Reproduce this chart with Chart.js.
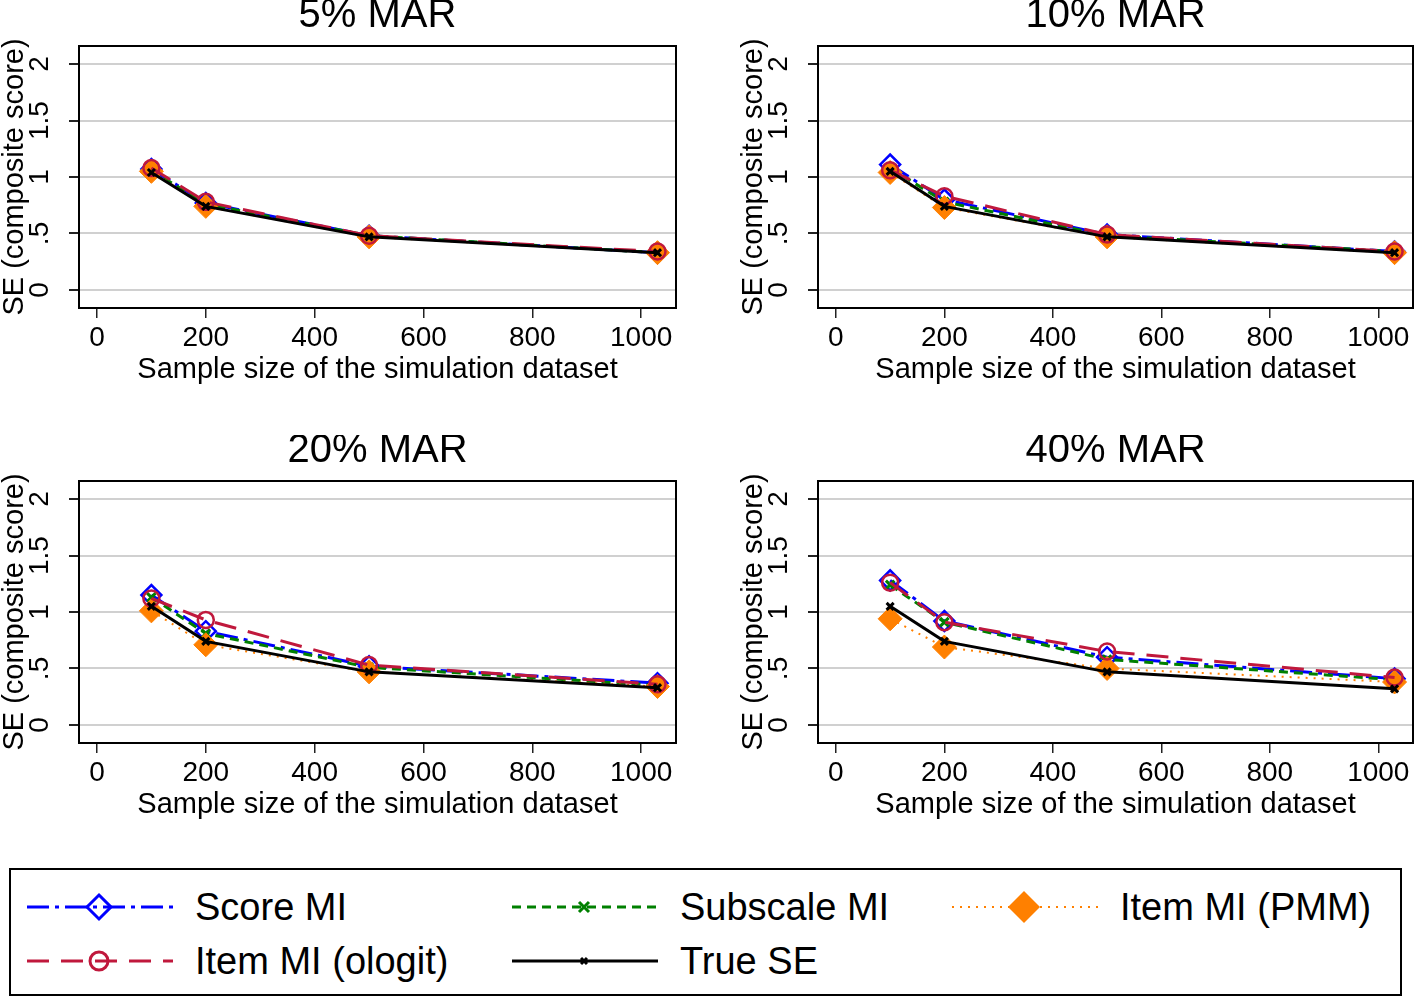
<!DOCTYPE html>
<html>
<head>
<meta charset="utf-8">
<script src="https://cdn.jsdelivr.net/npm/chart.js@4.4.1/dist/chart.umd.min.js"></script>
<style>
  body { margin: 0; background: #fff; font-family: "Liberation Sans", Arial, sans-serif; overflow: hidden; }
  #page { position: relative; width: 1415px; height: 996px; overflow: hidden; }
  canvas { position: absolute; }
  #legend { position: absolute; left: 9px; top: 868px; width: 1389px; height: 124px; border: 2px solid #000; box-sizing: content-box; }
  .item { position: absolute; height: 50px; display: flex; align-items: center; }
  .item svg { display: block; }
  .item span { font-size: 38px; color: #000; margin-left: 22px; white-space: nowrap; }
</style>
</head>
<body>
<div id="page">
  <canvas id="p0" width="700" height="395" style="left:0;top:0"></canvas>
  <canvas id="p1" width="690" height="395" style="left:739px;top:0"></canvas>
  <canvas id="p2" width="700" height="395" style="left:0;top:435px"></canvas>
  <canvas id="p3" width="690" height="395" style="left:739px;top:435px"></canvas>
  <div id="legend"></div>
</div>
<script>
// sample sizes (x) and panel titles
const sampleSizes = [100, 200, 500, 1030];
const panelTitles = ["5% MAR", "10% MAR", "20% MAR", "40% MAR"];
const yTicks = [0, 0.5, 1, 1.5, 2];

// SE per panel (5%, 10%, 20%, 40%), one row per panel
const scoreMI = [
    [1.07, 0.77, 0.48, 0.33],
    [1.11, 0.80, 0.49, 0.34],
    [1.15, 0.83, 0.52, 0.37],
    [1.28, 0.92, 0.60, 0.41]
];
const subscaleMI = [
    [1.06, 0.76, 0.48, 0.33],
    [1.08, 0.78, 0.48, 0.34],
    [1.13, 0.81, 0.51, 0.35],
    [1.24, 0.91, 0.58, 0.40]
];
const itemPMM = [
    [1.05, 0.74, 0.47, 0.33],
    [1.04, 0.73, 0.47, 0.33],
    [1.01, 0.71, 0.47, 0.34],
    [0.94, 0.69, 0.50, 0.38]
];
const itemOlogit = [
    [1.08, 0.78, 0.48, 0.34],
    [1.06, 0.83, 0.49, 0.34],
    [1.12, 0.93, 0.53, 0.36],
    [1.26, 0.91, 0.65, 0.42]
];
const trueSE = [
    [1.04, 0.74, 0.47, 0.33],
    [1.05, 0.74, 0.47, 0.33],
    [1.05, 0.74, 0.47, 0.33],
    [1.05, 0.74, 0.47, 0.32]
];

const FONT = '"Liberation Sans", Arial, Helvetica, sans-serif';
const BLUE = "#0000ff", GREEN = "#008000", ORANGE = "#ff8000", RED = "#c0183c";

// black box around the plot region
const frame = {
    id: "frame",
    afterDraw(chart) {
        const a = chart.chartArea, ctx = chart.ctx;
        ctx.save();
        ctx.strokeStyle = "#000";
        ctx.lineWidth = 2;
        ctx.strokeRect(a.left, a.top, a.right - a.left, a.bottom - a.top);
        ctx.restore();
    }
};

function pts(vals) {
    return vals.map((v, i) => ({ x: sampleSizes[i], y: v }));
}

function makePanel(id, k, rightPad) {
    const datasets = [
        { label: "Score MI", data: pts(scoreMI[k]), order: 5,
          borderColor: BLUE, borderWidth: 3, borderDash: [22, 6, 4, 6],
          pointStyle: "rectRot", pointRadius: 10, pointBorderWidth: 2.5,
          pointBorderColor: BLUE, pointBackgroundColor: "rgba(0,0,0,0)" },
        { label: "Subscale MI", data: pts(subscaleMI[k]), order: 4,
          borderColor: GREEN, borderWidth: 3, borderDash: [9, 6],
          pointStyle: "crossRot", pointRadius: 6, pointBorderWidth: 3,
          pointBorderColor: GREEN },
        { label: "Item MI (PMM)", data: pts(itemPMM[k]), order: 3,
          borderColor: ORANGE, borderWidth: 2, borderDash: [2, 6],
          pointStyle: "rectRot", pointRadius: 12, pointBorderWidth: 1,
          pointBorderColor: ORANGE, pointBackgroundColor: ORANGE },
        { label: "Item MI (ologit)", data: pts(itemOlogit[k]), order: 2,
          borderColor: RED, borderWidth: 3, borderDash: [22, 12],
          pointStyle: "circle", pointRadius: 8, pointBorderWidth: 2.5,
          pointBorderColor: RED, pointBackgroundColor: "rgba(0,0,0,0)" },
        { label: "True SE", data: pts(trueSE[k]), order: 1,
          borderColor: "#000", borderWidth: 3,
          pointStyle: "crossRot", pointRadius: 5, pointBorderWidth: 3,
          pointBorderColor: "#000" }
    ];

    new Chart(document.getElementById(id), {
        type: "line",
        data: { datasets },
        options: {
            responsive: false,
            animation: false,
            devicePixelRatio: 1,
            layout: { padding: { left: 0, right: rightPad, top: 0, bottom: 0 } },
            elements: { line: { tension: 0, fill: false } },
            plugins: {
                legend: { display: false },
                tooltip: { enabled: false },
                title: {
                    display: true, text: panelTitles[k], color: "#000",
                    fullSize: false,
                    font: { family: FONT, size: 40, weight: "normal", lineHeight: 0.8 },
                    padding: { top: 0, bottom: 14 }
                }
            },
            scales: {
                x: {
                    type: "linear", min: -33, max: 1064,
                    afterFit: s => { s.height = 87; s.paddingLeft = 0; s.paddingRight = 0; },
                    border: { display: false },
                    grid: { drawOnChartArea: false, drawTicks: true, tickLength: 10, tickColor: "#222", lineWidth: 1.5 },
                    ticks: { stepSize: 200, includeBounds: false, color: "#000", padding: 3,
                             maxRotation: 0, font: { family: FONT, size: 28 },
                             callback: v => String(v) },
                    title: { display: true, text: "Sample size of the simulation dataset", color: "#000",
                             font: { family: FONT, size: 29, lineHeight: 1 }, padding: { top: 0, bottom: 11 } }
                },
                y: {
                    type: "linear", min: -0.16, max: 2.16,
                    afterFit: s => { s.width = 79; },
                    afterBuildTicks: s => { s.ticks = yTicks.map(v => ({ value: v })); },
                    border: { display: false },
                    grid: { color: "#d0d0d0", lineWidth: 2, tickLength: 10, tickColor: "#222" },
                    ticks: {
                        minRotation: 90, maxRotation: 90, crossAlign: "center", padding: 9,
                        color: "#000", font: { family: FONT, size: 28 },
                        callback: v => v === 0 ? "0" : String(v).replace(/^0\./, ".")
                    },
                    title: { display: true, text: "SE (composite score)", color: "#000",
                             font: { family: FONT, size: 29, lineHeight: 1 }, padding: { top: 0, bottom: 0 } }
                }
            }
        },
        plugins: [frame]
    });
}

makePanel("p0", 0, 24);
makePanel("p1", 1, 16);
makePanel("p2", 2, 24);
makePanel("p3", 3, 16);

// legend below the panels
const legendItems = [
    { label: "Score MI", color: BLUE, dash: "22 6 4 6", width: 3, marker: "diamond", col: 0, row: 0 },
    { label: "Subscale MI", color: GREEN, dash: "9 6", width: 3, marker: "x", col: 1, row: 0 },
    { label: "Item MI (PMM)", color: ORANGE, dash: "2 6", width: 2, marker: "bigdiamond", col: 2, row: 0 },
    { label: "Item MI (ologit)", color: RED, dash: "22 12", width: 3, marker: "circle", col: 0, row: 1 },
    { label: "True SE", color: "#000", dash: "", width: 3, marker: "smallx", col: 1, row: 1 }
];
const colLeft = [16, 501, 941];
const rowTop = [12, 66];

const legend = document.getElementById("legend");
legendItems.forEach(it => {
    let m = "";
    if (it.marker === "diamond") m = `<path d="M72 8 L84 20 L72 32 L60 20 Z" fill="none" stroke="${it.color}" stroke-width="3"/>`;
    if (it.marker === "bigdiamond") m = `<path d="M72 4 L88 20 L72 36 L56 20 Z" fill="${it.color}"/>`;
    if (it.marker === "circle") m = `<circle cx="72" cy="20" r="9" fill="none" stroke="${it.color}" stroke-width="3"/>`;
    if (it.marker === "x") m = `<path d="M67 15 L77 25 M77 15 L67 25" stroke="${it.color}" stroke-width="3"/>`;
    if (it.marker === "smallx") m = `<path d="M69 17 L75 23 M75 17 L69 23" stroke="${it.color}" stroke-width="3"/>`;
    const div = document.createElement("div");
    div.className = "item";
    div.style.left = colLeft[it.col] + "px";
    div.style.top = rowTop[it.row] + "px";
    div.innerHTML = `<svg width="146" height="40"><line x1="0" y1="20" x2="146" y2="20" stroke="${it.color}" stroke-width="${it.width}" stroke-dasharray="${it.dash}"/>${m}</svg><span>${it.label}</span>`;
    legend.appendChild(div);
});
</script>
</body>
</html>
